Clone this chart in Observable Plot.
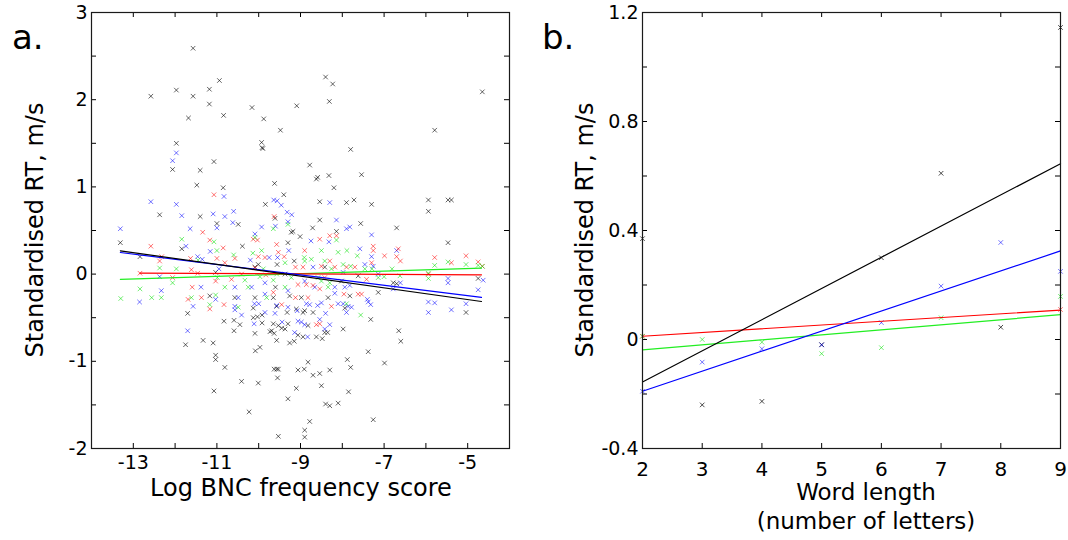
<!DOCTYPE html>
<html><head><meta charset="utf-8">
<script src="https://cdn.jsdelivr.net/npm/d3@7"></script>
<script src="https://cdn.jsdelivr.net/npm/@observablehq/plot@0.6"></script>
<style>
html,body{margin:0;padding:0;background:#fff;}
body{width:1068px;height:540px;overflow:hidden;position:relative;font-family:"DejaVu Sans",sans-serif;}
#pa{position:absolute;left:0;top:0;}
#pb{position:absolute;left:530px;top:0;}
#ov{position:absolute;left:0;top:0;pointer-events:none;}
</style></head>
<body>
<div id="pa"></div><div id="pb"></div>
<svg id="ov" width="1068" height="540" font-family="DejaVu Sans" fill="#000">
  <text x="12" y="49" font-size="34">a.</text>
  <text x="542" y="49" font-size="34">b.</text>
  <text x="301" y="496" font-size="24" text-anchor="middle">Log BNC frequency score</text>
  <text x="866" y="500" font-size="23" text-anchor="middle">Word length</text>
  <text x="866" y="529" font-size="23" text-anchor="middle">(number of letters)</text>
  <text transform="translate(43,230) rotate(-90)" font-size="24" text-anchor="middle">Standardised RT, m/s</text>
  <text transform="translate(593,230) rotate(-90)" font-size="24" text-anchor="middle">Standardised RT, m/s</text>
</svg>
<script>
// ---------- Panel a data: [log BNC frequency, standardised RT] ----------
const aBlack = [
[-11.57,2.59],[-10.94,2.22],[-11.97,2.11],[-11.18,2.12],[-12.58,2.04],[-11.57,2.04],[-11.18,1.95],[-10.16,1.91],[-9.09,1.93],[-11.68,1.79],[-10.84,1.82],[-9.88,1.78],[-9.48,1.65],[-11.97,1.50],[-9.93,1.51],[-9.92,1.45],[-9.90,1.44],
[-8.40,2.26],[-8.23,2.18],[-8.31,1.98],[-4.65,2.09],[-5.79,1.65],[-7.80,1.43],
[-12.06,1.20],[-11.07,1.29],[-11.40,1.19],[-11.48,1.02],[-10.85,0.99],[-9.62,1.04],[-9.40,0.91],[-9.84,0.80],[-12.37,0.68],[-11.40,0.66],[-10.49,0.57],[-11.0,0.58],[-9.61,0.64],[-13.31,0.36],[-10.39,0.32],[-9.22,0.48],[-9.18,0.49],[-9.30,0.36],[-9.01,0.43],[-11.84,0.29],[-12.84,0.20],[-11.17,-0.25],[-11.03,0.02],[-10.57,-0.27],[-10.09,-0.27],[-10.09,0.08],[-10.01,0.11],[-9.60,-0.15],[-9.56,0.11],[-9.37,0.0],[-9.15,0.15],[-8.98,-0.27],[-9.26,-0.25],[-9.65,-0.27],
[-8.78,1.25],[-8.59,1.11],[-8.62,1.09],[-8.32,1.13],[-7.54,1.14],[-8.20,0.99],[-8.54,0.83],[-7.90,0.82],[-7.72,0.85],[-7.30,0.80],[-5.94,0.85],[-5.94,0.72],[-5.47,0.85],[-5.39,0.85],[-8.54,0.62],[-8.71,0.53],[-7.56,0.58],[-6.70,0.53],[-8.14,0.49],[-5.47,0.36],[-4.75,-0.05],[-7.14,-0.21],[-6.70,-0.11],[-6.78,-0.10],[-7.82,-0.25],[-7.62,-0.02],[-8.02,-0.08],[-8.42,0.08],[-8.34,-0.27],
[-11.70,-0.45],[-10.83,-0.54],[-10.59,-0.53],[-10.45,-0.58],[-10.59,-0.65],[-11.75,-0.81],[-11.33,-0.76],[-11.09,-0.79],[-11.03,-0.93],[-11.03,-0.98],[-10.81,-1.07],[-11.07,-1.34],[-10.41,-1.23],[-10.23,-1.58],[-10.01,-1.25],[-10.08,-0.88],[-9.97,-0.84],[-10.09,-0.68],[-10.13,-0.50],[-10.03,-0.49],[-9.92,-0.47],[-10.13,-0.39],[-9.92,-0.56],[-9.73,-0.66],[-9.69,-0.65],[-9.63,-0.68],[-9.57,-0.76],[-9.65,-0.57],[-9.53,-0.59],[-9.63,-1.09],[-9.57,-1.09],[-9.53,-1.09],[-9.55,-1.19],[-9.30,-1.43],[-9.10,-1.31],[-9.53,-1.86],[-9.06,-1.10],[-8.91,-1.09],[-8.90,-1.79],[-8.90,-1.87],[-9.26,-0.79],[-9.15,-0.77],[-9.45,-0.62],[-9.37,-0.63],[-9.30,-0.57],[-9.32,-0.44],[-9.57,-0.37],[-9.10,-0.40],[-8.94,-0.44],[-8.90,-0.42],[-9.06,-0.70],[-8.94,-0.72],
[-8.70,-0.44],[-7.94,-0.39],[-7.32,-0.52],[-8.82,-0.59],[-8.42,-0.67],[-8.35,-0.67],[-8.62,-0.72],[-8.48,-0.74],[-7.98,-0.63],[-6.65,-0.65],[-6.60,-0.77],[-7.38,-0.89],[-8.82,-1.01],[-8.70,-1.16],[-8.54,-1.14],[-8.30,-1.10],[-7.88,-0.98],[-7.80,-1.07],[-6.99,-1.02],[-8.50,-1.28],[-7.85,-1.35],[-8.40,-1.49],[-8.30,-1.51],[-8.10,-1.48],[-8.78,-1.69],[-7.26,-1.67],[-5.04,-0.44]
];
const aBlue = [
[-11.97,1.39],[-12.06,1.30],[-10.83,0.89],[-9.64,0.85],[-9.56,0.84],[-9.46,0.79],[-12.58,0.83],[-11.97,0.80],[-11.84,0.67],[-11.09,0.69],[-10.81,0.66],[-10.60,0.72],[-10.62,0.59],[-11.0,0.53],[-9.32,0.71],[-9.21,0.68],[-9.30,0.60],[-9.60,0.55],[-9.93,0.54],[-13.31,0.52],[-11.64,0.52],[-10.09,0.46],[-11.74,0.32],[-11.16,0.26],[-10.20,0.16],[-11.46,0.20],[-11.35,0.17],[-10.95,0.06],[-12.37,-0.03],[-12.33,-0.19],[-12.85,-0.32],[-11.38,-0.15],[-11.03,-0.29],[-10.57,-0.15],[-10.49,-0.27],[-10.17,-0.15],[-9.85,-0.10],[-9.55,0.19],[-9.75,0.19],[-9.28,0.27],[-9.30,-0.19],[-9.85,-0.23],
[-8.30,0.82],[-8.14,0.62],[-7.90,0.52],[-7.82,0.54],[-8.75,0.38],[-8.32,0.37],[-7.30,0.45],[-7.58,0.29],[-7.30,0.20],[-6.70,0.27],[-5.47,-0.05],[-5.47,-0.10],[-4.63,-0.07],[-4.75,-0.18],[-6.78,-0.17],[-6.61,-0.10],[-7.40,-0.29],[-7.14,0.0],[-7.94,-0.15],[-7.82,-0.13],[-7.46,0.11],[-7.26,0.09],[-8.70,0.08],[-7.98,0.02],[-8.66,-0.15],[-8.18,-0.15],[-8.18,-0.22],[-8.90,-0.08],
[-11.57,-0.37],[-10.57,-0.37],[-10.57,-0.41],[-10.41,-0.47],[-11.70,-0.65],[-10.11,-0.57],[-9.85,-0.44],[-10.10,-0.34],[-10.00,-0.34],[-9.61,-0.45],[-9.44,-0.55],[-9.30,-0.38],[-9.57,-0.36],[-9.08,-0.42],[-9.06,-0.54],[-8.98,-0.55],[-9.14,-0.67],
[-8.86,-0.34],[-8.78,-0.35],[-8.59,-0.36],[-8.50,-0.33],[-8.40,-0.45],[-8.10,-0.34],[-7.98,-0.34],[-7.86,-0.37],[-7.78,-0.38],[-7.90,-0.44],[-7.38,-0.32],[-7.32,-0.35],[-8.54,-0.52],[-8.30,-0.58],[-8.90,-0.58],[-8.42,-0.63],[-8.83,-0.72],[-5.94,-0.32],[-5.79,-0.33],[-5.94,-0.44],[-5.39,-0.41],[-5.04,-0.34]
];
const aRed = [
[-11.07,0.91],[-9.63,0.66],[-11.34,0.48],[-10.13,0.40],[-10.03,0.39],[-9.57,0.34],[-12.58,0.32],[-11.17,0.39],[-10.85,0.30],[-10.57,0.18],[-11.0,0.18],[-10.01,0.20],[-12.32,0.20],[-12.37,0.15],[-11.63,0.18],[-10.81,0.13],[-12.84,0.01],[-11.61,0.05],[-11.46,0.01],[-12.06,-0.04],[-11.59,-0.15],[-11.69,-0.29],[-11.37,-0.27],[-11.03,-0.08],[-10.65,-0.06],[-10.41,0.0],[-10.09,0.07],[-9.83,-0.01],[-9.65,-0.21],[-9.85,0.19],[-9.53,0.25],[-9.39,0.20],[-9.12,0.08],[-8.94,0.08],[-9.06,-0.12],[-9.12,-0.27],[-8.90,0.27],
[-8.30,0.44],[-8.14,0.44],[-8.54,0.40],[-7.26,0.32],[-7.26,0.27],[-6.66,0.29],[-6.61,0.15],[-6.99,0.21],[-6.70,0.20],[-5.79,0.19],[-5.04,0.21],[-4.75,0.14],[-4.65,0.09],[-5.39,0.13],[-5.94,0.0],[-7.62,-0.23],[-7.54,-0.23],[-7.42,-0.06],[-7.90,0.08],[-7.70,0.08],[-7.30,0.13],[-7.96,-0.23],[-8.30,0.15],[-8.50,0.09],[-8.18,0.08],[-8.42,-0.04],[-8.70,-0.13],[-8.54,-0.17],[-8.86,-0.12],[-8.82,-0.27],
[-11.17,-0.40],[-10.83,-0.35],[-9.45,-0.35],[-8.26,-0.37],[-8.62,-0.58],[-8.54,-0.57]
];
const aGreen = [
[-9.30,0.57],[-9.65,0.52],[-10.09,0.42],[-11.84,0.40],[-11.07,0.37],[-11.0,0.27],[-10.60,0.22],[-10.14,0.24],[-9.93,0.27],[-12.37,0.07],[-11.45,0.16],[-11.97,0.06],[-12.84,-0.17],[-13.30,-0.28],[-12.56,-0.27],[-12.33,-0.27],[-12.06,-0.10],[-11.61,-0.27],[-11.03,-0.24],[-10.99,-0.04],[-10.81,-0.15],[-10.33,-0.07],[-10.25,-0.15],[-9.97,-0.03],[-9.89,0.06],[-9.65,-0.07],[-9.57,0.0],[-9.37,0.13],[-9.22,-0.04],[-8.91,0.19],[-9.37,-0.15],[-9.81,-0.27],
[-8.14,0.39],[-4.65,0.09],[-5.79,0.10],[-5.47,0.14],[-5.04,0.11],[-4.75,0.10],[-5.94,-0.05],[-5.94,0.01],[-6.62,-0.02],[-7.14,-0.04],[-8.10,0.25],[-7.89,0.27],[-7.64,0.21],[-8.50,0.27],[-7.98,0.11],[-7.80,0.09],[-7.46,0.06],[-7.29,0.06],[-6.81,0.06],[-7.00,-0.03],[-8.42,0.15],[-8.74,0.17],[-8.90,0.15],[-8.26,0.06],[-8.58,-0.04],[-8.34,-0.15],[-8.30,-0.10],[-8.50,-0.08],
[-11.17,-0.35],[-10.49,-0.38],[-7.90,-0.34],[-7.56,-0.47]
];
// fitted lines, panel a (endpoints)
const aFitBlack = [[-13.31,0.267],[-4.67,-0.314]];
const aFitBlue  = [[-13.31,0.248],[-4.67,-0.268]];
const aFitRed   = [[-12.84,0.011],[-4.67,-0.008]];
const aFitGreen = [[-13.31,-0.060],[-4.67,0.068]];
const aXTicks = [-13,-12,-11,-10,-9,-8,-7,-6,-5];
const aXLabels = [-13,-11,-9,-7,-5];
const aYTicks = [-1.5,-1,-0.5,0,0.5,1,1.5,2,2.5];
const aYLabels = [-2,-1,0,1,2,3];

// ---------- Panel b data: word length vs standardised RT ----------
const wordLength = [2,3,4,5,6,7,8,9];
const bBlack = [0.37,-0.24,-0.227,-0.019,0.30,0.61,0.045,1.145];
const bBlue  = [-0.19,-0.083,-0.034,-0.02,0.062,0.196,0.356,0.25];
const bGreen = [0.012,0.0,-0.01,-0.052,-0.03,0.08,null,0.158];
const bRed   = [0.012,null,null,null,null,null,null,0.11];
const bFitBlack = [[2,-0.156],[9,0.645]];
const bFitBlue  = [[2,-0.19],[9,0.325]];
const bFitRed   = [[2,0.012],[9,0.108]];
const bFitGreen = [[2,-0.038],[9,0.091]];
const bXTicks = [2,3,4,5,6,7,8,9];
const bYTicks = [-0.2,0,0.2,0.4,0.6,0.8,1.0];
const bYLabels = [-0.4,0,0.4,0.8,1.2];

const ptColor = {black:"#000000", blue:"#0000ff", red:"#ff0000", green:"#00e000"};
const lineColor = {black:"#000000", blue:"#0000ff", red:"#ff0000", green:"#22ee22"};
const fmt = d => (Math.abs(d) < 1e-9 ? "0" : String(+d.toFixed(2)));

const H = 540, mT = 12, mB = 92, TK = 5;

function dots(pairs, c, op) {
  return Plot.dot(pairs, {x: d => d[0], y: d => d[1], symbol: "times", r: 2.2, stroke: ptColor[c], strokeOpacity: op, strokeWidth: 1});
}
function fit(pairs, c) {
  return Plot.line(pairs, {x: d => d[0], y: d => d[1], stroke: lineColor[c], strokeWidth: 1.2});
}
function boxTicks(xt, yt, fw, fh) {
  return [
    Plot.tickX(xt, {x: d => d, insetTop: fh - TK, stroke: "#000"}),
    Plot.tickX(xt, {x: d => d, insetBottom: fh - TK, stroke: "#000"}),
    Plot.tickY(yt, {y: d => d, insetRight: fw - TK, stroke: "#000"}),
    Plot.tickY(yt, {y: d => d, insetLeft: fw - TK, stroke: "#000"}),
    Plot.frame({stroke: "#1a1a1a", strokeWidth: 1.2})
  ];
}

// Panel a
const WA = 520, aML = 91, aMR = 11;
const plotA = Plot.plot({
  width: WA, height: H, marginLeft: aML, marginRight: aMR, marginTop: mT, marginBottom: mB,
  style: {fontFamily: "DejaVu Sans", fontSize: "19px", color: "#000", background: "transparent", overflow: "visible"},
  x: {domain: [-14, -4]},
  y: {domain: [-2, 3]},
  marks: [
    dots(aBlack, "black", 0.6),
    dots(aBlue, "blue", 0.55),
    dots(aRed, "red", 0.55),
    dots(aGreen, "green", 0.55),
    fit(aFitGreen, "green"),
    fit(aFitRed, "red"),
    fit(aFitBlue, "blue"),
    fit(aFitBlack, "black"),
    ...boxTicks(aXTicks, aYTicks, WA - aML - aMR, H - mT - mB),
    Plot.axisX({ticks: aXLabels, anchor: "bottom", tickSize: 0, tickPadding: 7, tickFormat: fmt, label: null, fontSize: 19}),
    Plot.axisY({ticks: aYLabels, anchor: "left", tickSize: 0, tickPadding: 4, tickFormat: fmt, label: null, fontSize: 19})
  ]
});
document.getElementById("pa").appendChild(plotA);

// Panel b
const WB = 538, bML = 112, bMR = 8;
const toPairs = vals => wordLength.map((x, i) => [x, vals[i]]).filter(p => p[1] !== null);
const plotB = Plot.plot({
  width: WB, height: H, marginLeft: bML, marginRight: bMR, marginTop: mT, marginBottom: mB,
  style: {fontFamily: "DejaVu Sans", fontSize: "20px", color: "#000", background: "transparent", overflow: "visible"},
  x: {domain: [2, 9]},
  y: {domain: [-0.4, 1.2]},
  marks: [
    dots(toPairs(bBlack), "black", 0.7),
    dots(toPairs(bBlue), "blue", 0.55),
    dots(toPairs(bRed), "red", 0.55),
    dots(toPairs(bGreen), "green", 0.55),
    fit(bFitGreen, "green"),
    fit(bFitRed, "red"),
    fit(bFitBlue, "blue"),
    fit(bFitBlack, "black"),
    ...boxTicks(bXTicks, bYTicks, WB - bML - bMR, H - mT - mB),
    Plot.axisX({ticks: bXTicks, anchor: "bottom", tickSize: 0, tickPadding: 13, tickFormat: fmt, label: null, fontSize: 20}),
    Plot.axisY({ticks: bYLabels, anchor: "left", tickSize: 0, tickPadding: 4, tickFormat: fmt, label: null, fontSize: 19})
  ]
});
document.getElementById("pb").appendChild(plotB);
</script>
</body></html>
